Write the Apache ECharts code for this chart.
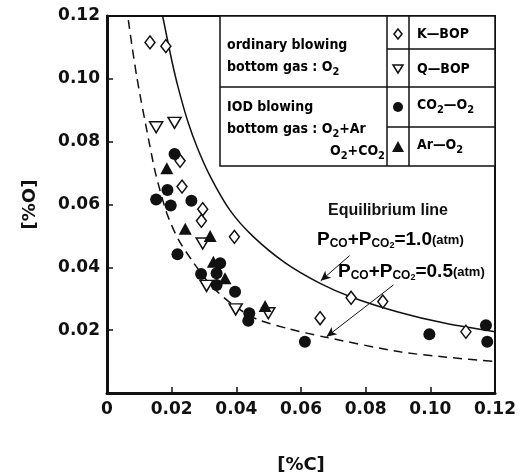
<!DOCTYPE html>
<html>
<head>
<meta charset="utf-8">
<script src="https://cdn.jsdelivr.net/npm/echarts@6/dist/echarts.min.js"></script>
<style>
html,body{margin:0;padding:0;background:#fff;}
#main{width:523px;height:475px;}
</style>
</head>
<body>
<div id="main"></div>
<script>
// [%C], [%O]
var kbop = [[0.0133,0.1116],[0.0182,0.1104],[0.0226,0.0739],[0.0232,0.0657],[0.0296,0.0585],[0.0292,0.0548],
            [0.0394,0.0497],[0.0659,0.0238],[0.0755,0.0303],[0.0853,0.0291],[0.111,0.0195]];
var qbop = [[0.0152,0.0846],[0.0209,0.0860],[0.0296,0.0476],[0.0308,0.0341],[0.0398,0.0266],[0.0499,0.0254]];
var co2o2 = [[0.0209,0.0761],[0.0187,0.0646],[0.0152,0.0616],[0.0197,0.0597],[0.0261,0.0612],[0.0218,0.0442],
             [0.0291,0.0379],[0.0350,0.0413],[0.0339,0.0381],[0.0339,0.0344],[0.0396,0.0322],[0.0440,0.0254],
             [0.0437,0.0230],[0.0612,0.0163],[0.0997,0.0187],[0.1172,0.0216],[0.1176,0.0163]];
var aro2 = [[0.0185,0.0715],[0.0242,0.0523],[0.0319,0.0500],[0.0329,0.0418],[0.0365,0.0365],[0.0489,0.0277]];

// equilibrium lines, points
var eq10 = [[0.0172,0.120],[0.0200,0.106],[0.0220,0.0973],[0.0250,0.0864],[0.0280,0.0779],[0.0320,0.0688],
            [0.0380,0.0582],[0.0450,0.0500],[0.0550,0.0415],[0.0659,0.0349],[0.0757,0.0305],
            [0.090,0.0258],[0.105,0.0221],[0.120,0.0195]];
var eq05 = [[0.0066,0.1187],[0.0078,0.110],[0.0092,0.1007],[0.0105,0.0933],[0.0123,0.0837],[0.0150,0.070],
            [0.0185,0.0572],[0.0220,0.049],[0.0262,0.0423],[0.0320,0.0344],[0.039,0.028],[0.0463,0.0235],
            [0.0560,0.0205],[0.0669,0.0179],[0.0906,0.0131],[0.105,0.0114],[0.120,0.0100]];

// arrows [from, to]
var arrow10 = [[0.0750,0.0437],[0.0661,0.0357]];
var arrow05 = [[0.0886,0.0344],[0.0679,0.0179]];

var narrow = '"Liberation Sans Narrow","DejaVu Sans Condensed","Arial Narrow",sans-serif';
var subRich = {
  n: {fontSize:14, fontWeight:'bold', fontFamily:narrow, verticalAlign:'top', color:'#111'},
  s: {fontSize:11, fontWeight:'bold', fontFamily:narrow, verticalAlign:'top', padding:[6,0,0,0], color:'#111'}
};
function txt(x, y, t, align){
  return {type:'text', x:x, y:y, z:12, style:{text:t, rich:subRich, align:align||'left', verticalAlign:'middle'}};
}
function hline(x1,x2,y){ return {type:'line', z:11, shape:{x1:x1,y1:y,x2:x2,y2:y}, style:{stroke:'#111', lineWidth:1.5}}; }
function vline(x,y1,y2){ return {type:'line', z:11, shape:{x1:x,y1:y1,x2:x,y2:y2}, style:{stroke:'#111', lineWidth:1.5}}; }

var formRich = {
  p: {fontSize:19, fontWeight:'bold', fontFamily:'Liberation Sans', verticalAlign:'top', color:'#111'},
  s: {fontSize:12, fontWeight:'bold', fontFamily:'Liberation Sans', verticalAlign:'top', padding:[8,0,0,0], color:'#111'},
  ss:{fontSize:9, fontWeight:'bold', fontFamily:'Liberation Sans', verticalAlign:'top', padding:[11,0,0,0], color:'#111'},
  a: {fontSize:13, fontWeight:'bold', fontFamily:'Liberation Sans', verticalAlign:'top', padding:[4,0,0,0], color:'#111'}
};

var option = {
  animation: false,
  backgroundColor: '#fff',
  grid: {left:107, right:28, top:16, bottom:82, containLabel:false, outerBoundsMode:'none',
         show:true, borderColor:'#111', borderWidth:2},
  xAxis: {
    type:'value', min:0, max:0.12, interval:0.02,
    name:'[%C]', nameLocation:'middle', nameGap:63,
    nameTextStyle:{fontFamily:'DejaVu Sans', fontWeight:'bold', fontSize:18, color:'#111'},
    axisLine:{lineStyle:{color:'#111', width:3}},
    axisTick:{inside:true, length:6, lineStyle:{color:'#111', width:1.5}},
    splitLine:{show:false},
    axisLabel:{margin:8, fontFamily:'DejaVu Sans', fontWeight:'bold', fontSize:17, color:'#111',
      formatter:function(v){ return v === 0 ? '0' : v.toFixed(2); }}
  },
  yAxis: {
    type:'value', min:0, max:0.12, interval:0.02,
    name:'[%O]', nameLocation:'middle', nameGap:68, nameRotate:90,
    nameTextStyle:{fontFamily:'DejaVu Sans', fontWeight:'bold', fontSize:18, color:'#111'},
    axisLine:{lineStyle:{color:'#111', width:3}},
    axisTick:{inside:true, length:6, lineStyle:{color:'#111', width:1.5}},
    splitLine:{show:false},
    axisLabel:{margin:7, fontFamily:'DejaVu Sans', fontWeight:'bold', fontSize:17, color:'#111',
      formatter:function(v){ return v === 0 ? '' : v.toFixed(2); }}
  },
  series: [
    {type:'line', data:eq10, smooth:0.25, showSymbol:false, lineStyle:{color:'#111', width:1.5}, z:2},
    {type:'line', data:eq05, smooth:0.25, showSymbol:false, lineStyle:{color:'#111', width:1.5, type:[9,6]}, z:2},
    {type:'scatter', name:'K-BOP', data:kbop, symbol:'diamond', symbolSize:[10,13],
      itemStyle:{color:'#fff', borderColor:'#111', borderWidth:1.5, opacity:1}, z:5},
    {type:'scatter', name:'Q-BOP', data:qbop, symbol:'triangle', symbolRotate:180, symbolSize:[13,11],
      itemStyle:{color:'#fff', borderColor:'#111', borderWidth:1.5, opacity:1}, z:5},
    {type:'scatter', name:'CO2-O2', data:co2o2, symbol:'circle', symbolSize:12,
      itemStyle:{color:'#111', opacity:1}, z:6},
    {type:'scatter', name:'Ar-O2', data:aro2, symbol:'triangle', symbolSize:[13,12],
      itemStyle:{color:'#111', opacity:1}, z:6},
    {type:'line', data:[], z:4,
      markLine:{silent:true, symbol:['none','arrow'], symbolSize:[7,10], label:{show:false},
        lineStyle:{color:'#111', width:1, type:'solid'},
        data:[
          [{coord:arrow10[0]},{coord:arrow10[1]}],
          [{coord:arrow05[0]},{coord:arrow05[1]}]
        ]}}
  ],
  graphic: [
    {type:'rect', z:10, shape:{x:220,y:16,width:275,height:150}, style:{fill:'#fff', stroke:'#111', lineWidth:1.5}},
    hline(220,495,87), hline(387,495,49), hline(387,495,127),
    vline(387,16,166), vline(409,16,166),
    txt(227,45,'{n|ordinary blowing}'),
    txt(227,69,'{n|bottom gas : O}{s|2}'),
    txt(227,107,'{n|IOD blowing}'),
    txt(227,131,'{n|bottom gas : O}{s|2}{n|+Ar}'),
    txt(385,153,'{n|O}{s|2}{n|+CO}{s|2}','right'),
    {type:'polygon', z:12, shape:{points:[[398,29],[402,34],[398,39],[394,34]]}, style:{fill:'#fff', stroke:'#111', lineWidth:1.5}},
    {type:'polygon', z:12, shape:{points:[[393,65],[403,65],[398,73]]}, style:{fill:'#fff', stroke:'#111', lineWidth:1.5}},
    {type:'circle', z:12, shape:{cx:398, cy:107, r:5}, style:{fill:'#111'}},
    {type:'polygon', z:12, shape:{points:[[392,152],[404,152],[398,141]]}, style:{fill:'#111'}},
    txt(417,34,'{n|K—BOP}'),
    txt(417,69,'{n|Q—BOP}'),
    txt(417,107,'{n|CO}{s|2}{n|—O}{s|2}'),
    txt(417,147,'{n|Ar—O}{s|2}'),
    {type:'text', z:12, x:328, y:203, style:{text:'Equilibrium line', font:'bold 16px "Liberation Sans"', fill:'#111'}},
    {type:'text', z:12, x:317, y:230, style:{text:'{p|P}{s|CO}{p|+P}{s|CO}{ss|2}{p|=1.0}{a|(atm)}', rich:formRich}},
    {type:'text', z:12, x:338, y:262, style:{text:'{p|P}{s|CO}{p|+P}{s|CO}{ss|2}{p|=0.5}{a|(atm)}', rich:formRich}}
  ]
};

var chart = echarts.init(document.getElementById('main'));
chart.setOption(option);
</script>
</body>
</html>
